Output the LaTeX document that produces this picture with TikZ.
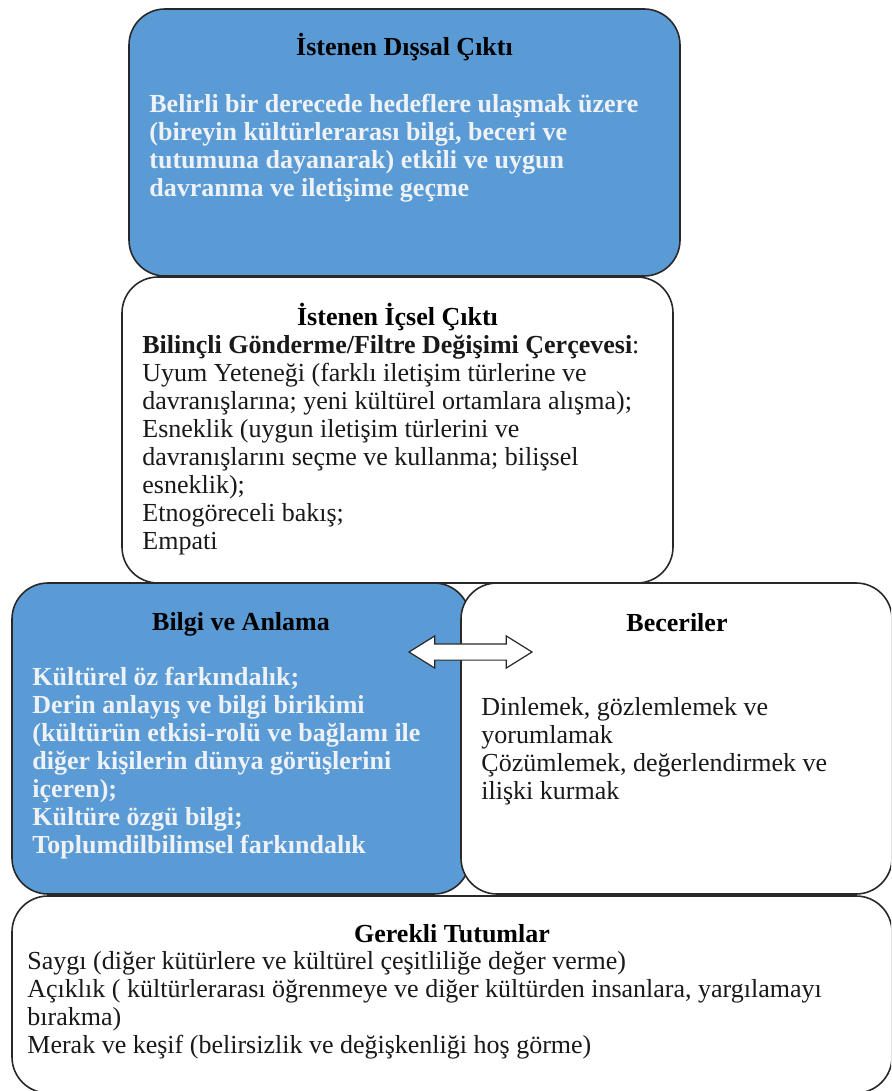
\documentclass[tikz,border=0pt]{standalone}
\usepackage{fontspec}
\setmainfont{Liberation Serif}
\usetikzlibrary{shapes.arrows}

\definecolor{boxblue}{RGB}{91,155,213}
\definecolor{edge}{RGB}{40,40,40}
\definecolor{pale}{RGB}{238,242,246}
\definecolor{ink}{RGB}{25,25,25}
\newcommand{\bodysize}{\fontsize{13}{14}\selectfont}

\tikzset{
  bluebox/.style={draw=edge, fill=boxblue, line width=0.8pt, rounded corners=18pt},
  whitebox/.style={draw=edge, fill=white, line width=0.8pt, rounded corners=18pt},
  boxtitle/.style={font=\bodysize\bfseries, text=black, anchor=base, inner sep=0pt},
  bluetext/.style={font=\bodysize\bfseries, text=pale, align=left, anchor=north west, inner sep=0pt},
  plaintext/.style={font=\bodysize, text=ink, align=left, anchor=north west, inner sep=0pt},
  twoway/.style={double arrow, draw=edge, fill=white, line width=0.6pt,
    inner xsep=0pt, inner ysep=3.75pt,
    minimum height=61.5pt, minimum width=15.5pt, double arrow head extend=4pt,
    double arrow tip angle=64}
}

\begin{document}
\begin{tikzpicture}[x=0.5pt,y=-0.5pt]

\useasboundingbox (0,0) rectangle (891,1091);
\clip (0,0) rectangle (891,1091);

\coordinate (A) at (129,9);
\coordinate (B) at (680,276);
\coordinate (C) at (122,277);
\coordinate (D) at (673,583);
\coordinate (E) at (12,583);
\coordinate (F) at (470,894);
\coordinate (G) at (461,583);
\coordinate (H) at (892,894);
\coordinate (J) at (12,896);
\coordinate (K) at (892,1093);

\draw[bluebox] (A) rectangle (B);
\draw[whitebox] (C) rectangle (D);
\draw[bluebox] (E) rectangle (F);
\draw[whitebox] (G) rectangle (H);
\draw[whitebox] (J) rectangle (K);

\node (dis) at (404.5,56) [boxtitle] {İstenen Dışsal Çıktı};
\node (disbody) at (149,94) [bluetext] {Belirli bir derecede hedeflere ulaşmak üzere\\
(bireyin kültürlerarası bilgi, beceri ve\\
tutumuna dayanarak) etkili ve uygun\\
davranma ve iletişime geçme};

\node (ic) at (397.5,325) [boxtitle] {İstenen İçsel Çıktı};
\node (icbody) at (142,335) [plaintext] {{\bfseries Bilinçli Gönderme/Filtre Değişimi Çerçevesi}:\\
Uyum Yeteneği (farklı iletişim türlerine ve\\
davranışlarına; yeni kültürel ortamlara alışma);\\
Esneklik (uygun iletişim türlerini ve\\
davranışlarını seçme ve kullanma; bilişsel\\
esneklik);\\
Etnogöreceli bakış;\\
Empati};

\node (bilgi) at (241,630) [boxtitle] {Bilgi ve Anlama};
\node (bilgibody) at (32,667) [bluetext] {Kültürel öz farkındalık;\\
Derin anlayış ve bilgi birikimi\\
(kültürün etkisi-rolü ve bağlamı ile\\
diğer kişilerin dünya görüşlerini\\
içeren);\\
Kültüre özgü bilgi;\\
Toplumdilbilimsel farkındalık};

\node (beceri) at (677,631) [boxtitle] {Beceriler};
\node (beceribody) at (481,697) [plaintext] {Dinlemek, gözlemlemek ve\\
yorumlamak\\
Çözümlemek, değerlendirmek ve\\
ilişki kurmak};

\node (tutum) at (452,942) [boxtitle] {Gerekli Tutumlar};
\node (tutumbody) at (27,951) [plaintext] {Saygı (diğer kütürlere ve kültürel çeşitliliğe değer verme)\\
Açıklık ( kültürlerarası öğrenmeye ve diğer kültürden insanlara, yargılamayı\\
bırakma)\\
Merak ve keşif (belirsizlik ve değişkenliği hoş görme)};

\node (arw) at (470.5,652) [twoway] {};

\end{tikzpicture}
\end{document}
